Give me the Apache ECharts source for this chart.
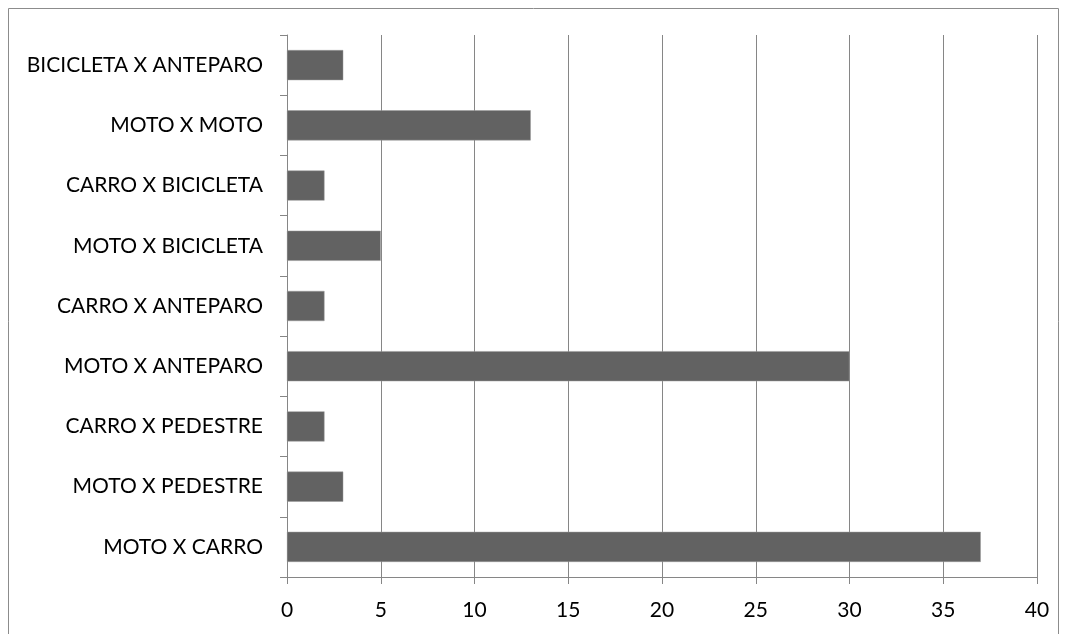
<!DOCTYPE html>
<html>
<head>
<meta charset="utf-8">
<script src="https://cdn.jsdelivr.net/npm/echarts@6/dist/echarts.min.js"></script>
<style>
  html, body { margin: 0; padding: 0; background: #fff; }
  #chart { width: 1066px; height: 634px; }
</style>
</head>
<body>
<div id="chart"></div>
<script>
// categories, bottom to top
var categories = [
  "MOTO X CARRO",
  "MOTO X PEDESTRE",
  "CARRO X PEDESTRE",
  "MOTO X ANTEPARO",
  "CARRO X ANTEPARO",
  "MOTO X BICICLETA",
  "CARRO X BICICLETA",
  "MOTO X MOTO",
  "BICICLETA X ANTEPARO"
];
var values = [37, 3, 2, 30, 2, 5, 2, 13, 3];
var xTicks = [0, 5, 10, 15, 20, 25, 30, 35, 40];

var myChart = echarts.init(document.getElementById("chart"));
var font = "Lato, 'Open Sans', sans-serif";
var option = {
  animation: false,
  textStyle: { fontFamily: font },
  graphic: [
    {
      type: "rect",
      shape: { x: 8.5, y: 8.5, width: 1050, height: 650 },
      style: { fill: "none", stroke: "#8c8c8c", lineWidth: 1 }
    }
  ],
  grid: {
    left: 287,
    right: 29,
    top: 35,
    bottom: 57,
    containLabel: false
  },
  xAxis: {
    type: "value",
    min: xTicks[0],
    max: xTicks[xTicks.length - 1],
    interval: 5,
    axisLine: { show: true, lineStyle: { color: "#868686" } },
    axisTick: { show: true, length: 7, lineStyle: { color: "#868686" } },
    axisLabel: { color: "#000", fontSize: 21, fontFamily: font, margin: 23 },
    splitLine: { show: true, lineStyle: { color: "#868686", width: 1 } }
  },
  yAxis: {
    type: "category",
    data: categories,
    axisLine: { show: true, lineStyle: { color: "#868686" } },
    axisTick: { show: true, length: 7, lineStyle: { color: "#868686" } },
    axisLabel: { color: "#000", fontSize: 21, fontFamily: font, margin: 24 },
    splitLine: { show: false }
  },
  series: [
    {
      type: "bar",
      data: values,
      barWidth: "50%",
      itemStyle: { color: "#626262", borderColor: "#9a9a9a", borderWidth: 0.5 }
    }
  ]
};
myChart.setOption(option);
window.addEventListener("resize", function () { myChart.resize(); });
</script>
</body>
</html>
